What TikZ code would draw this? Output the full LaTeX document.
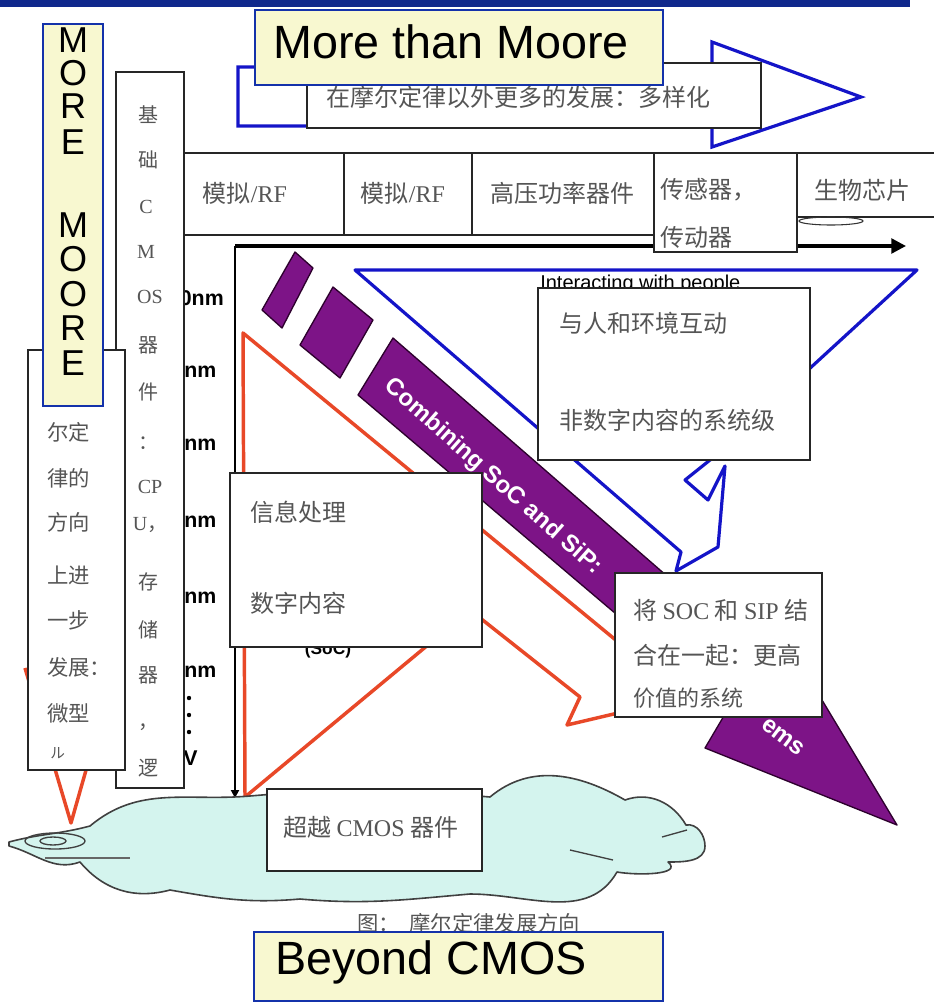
\documentclass[tikz,border=0pt]{standalone}
\usepackage{fontspec}
\setmainfont{Liberation Serif}
\newfontfamily\arialf{Liberation Sans}
\newfontfamily\cjk{Noto Sans CJK SC}
\usetikzlibrary{arrows.meta}
\definecolor{navy}{RGB}{16,40,140}
\definecolor{boxblue}{RGB}{20,50,170}
\definecolor{ylw}{RGB}{248,248,208}
\definecolor{arrblue}{RGB}{20,20,200}
\definecolor{purp}{RGB}{125,20,135}
\definecolor{purpdark}{RGB}{45,0,45}
\definecolor{redo}{RGB}{232,72,40}
\definecolor{cloudc}{RGB}{212,244,238}
\definecolor{txtg}{RGB}{85,85,85}
\newcommand\latn[1]{{\rmfamily #1}}
\tikzset{
 ybox/.style={draw=boxblue, fill=ylw, line width=1.3pt},
 wbox/.style={draw=black!85, fill=white, line width=1.1pt},
 big/.style={font=\arialf\fontsize{35}{38}\selectfont, inner sep=0, anchor=west},
 vlet/.style={font=\arialf\fontsize{27}{28}\selectfont, inner sep=0},
 ct/.style={font=\cjk\fontsize{18}{20}\selectfont, text=txtg, inner sep=0, anchor=west},
 ctc/.style={font=\cjk\fontsize{18}{20}\selectfont, text=txtg, inner sep=0},
 colt/.style={font=\cjk\fontsize{15}{16}\selectfont, text=txtg, inner sep=0},
 lbt/.style={font=\cjk\fontsize{16}{17}\selectfont, text=txtg, inner sep=0, anchor=west},
 nmt/.style={font=\arialf\bfseries\fontsize{16}{17}\selectfont, inner sep=0},
 blueline/.style={draw=arrblue, line width=2.4pt, line join=round},
 redline/.style={draw=redo, line width=2.6pt, line join=round},
 purpshape/.style={fill=purp, draw=purpdark, line width=1pt, line join=round},
 wtxt/.style={font=\arialf\bfseries\fontsize{18}{19}\selectfont, text=white, inner sep=0},
}
\begin{document}
\begin{tikzpicture}[x=0.75pt,y=-0.75pt]
\path[use as bounding box, fill=white] (0,0) rectangle (934,1003);
% top bar
\fill[navy] (0,0) rectangle (910,7);

% More than Moore arrow
\draw[blueline, line join=miter] (238,67) -- (712,67) -- (712,42) -- (861,97) -- (712,147) -- (712,126) -- (238,126) -- cycle;
\draw[wbox] (307,63) rectangle (761,128);
\node[ct] (divers) at (326,97) {在摩尔定律以外更多的发展：多样化};
\draw[ybox] (255,10) rectangle (663,85);
\node[big] (mtm) at (273,42) {More than Moore};

% axes
\coordinate (axO) at (235,246);
\coordinate (axX) at (906,246);
\coordinate (axY) at (235,798);
\draw[line width=2.5pt, -{Triangle[length=11pt,width=11pt]}] (axO) -- (axX);
\draw[line width=1.6pt, -{Triangle[length=6pt,width=6pt]}] (axO) -- (axY);

% row of cells
\draw[wbox] (183,153) rectangle (344,235);
\draw[wbox] (344,153) rectangle (472,235);
\draw[wbox] (472,153) rectangle (654,235);
\draw[wbox] (797,153) rectangle (940,217);
\draw[wbox] (654,153) rectangle (797,252);
\draw[black!80, line width=0.8pt] (831,221) ellipse [x radius=32, y radius=4];
\node[ctc] (r1) at (245,193) {模拟\latn{/RF}};
\node[ctc] (r2) at (403,193) {模拟\latn{/RF}};
\node[ctc] (r3) at (562,193) {高压功率器件};
\node[ct] (r4) at (660,190) {传感器，};
\node[ct] (r5) at (660,237) {传动器};
\node[ctc] (r6) at (862,190) {生物芯片};

% Interacting with people arrow
\draw[blueline] (355,270) -- (917,270) -- (710,460) -- (685,480) -- (708,500) -- (725,466) -- (718,547) -- (676,571) -- (681,552) -- cycle;
\node[font=\arialf\fontsize{15}{16}\selectfont, inner sep=0, anchor=west] (inter) at (540,284) {Interacting with people};

% purple combining arrow
\draw[purpshape] (295,252) -- (313,268) -- (282,328) -- (262,310) -- cycle;
\draw[purpshape] (333,287) -- (373,320) -- (340,378) -- (300,345) -- cycle;
\draw[purpshape] (393,338) -- (759,656) -- (777,625) -- (897,825) -- (705,748) -- (728,709) -- (358,395) -- cycle;
\node[wtxt, rotate=-41.5] (comb) at (493,477) {Combining SoC and SiP:};
\node[wtxt, rotate=-37] (ems) at (783,737) {ems};

% red information-processing arrow
\draw[redline] (243,333) -- (640,660) -- (652,705) -- (567,725) -- (580,697) -- (470,610) -- (245,797) -- cycle;
\node[font=\arialf\bfseries\fontsize{13}{14}\selectfont, inner sep=0] (soc) at (328,650) {(SoC)};

% text boxes
\draw[wbox] (538,288) rectangle (810,460);
\node[ct] (h1) at (559,323) {与人和环境互动};
\node[ct] (h2) at (559,420) {非数字内容的系统级};
\draw[wbox] (230,473) rectangle (482,647);
\node[ct] (d1) at (250,512) {信息处理};
\node[ct] (d2) at (250,603) {数字内容};
\draw[wbox] (615,573) rectangle (822,717);
\node[ct] (s1) at (633,610) {将 \latn{SOC} 和 \latn{SIP} 结};
\node[ct] (s2) at (633,655) {合在一起：更高};
\node[ct, font=\cjk\fontsize{16.5}{18}\selectfont] (s3) at (633,698) {价值的系统};

% cloud
\draw[fill=cloudc, draw=black!75, line width=1.2pt, line join=round]
 (9,842) to[out=15,in=195] (90,826)
 to[out=40,in=185] (250,796)
 to[out=5,in=175] (490,797)
 to[out=40,in=150] (625,800)
 to[out=20,in=120] (686,825)
 to[out=10,in=90] (705,846)
 to[out=-90,in=0] (668,862)
 to[out=-40,in=-10] (617,872)
 to[out=-120,in=0] (470,894)
 to[out=-175,in=-5] (300,899)
 to[out=-175,in=-10] (170,890)
 to[out=-165,in=-50] (80,862)
 to[out=200,in=-15] (9,846) -- cycle;
\draw[black!75, line width=1pt] (55,841) ellipse [x radius=30, y radius=8];
\draw[black!75, line width=1pt] (53,841) ellipse [x radius=13, y radius=4];
\draw[black!60, line width=0.8pt] (45,858) -- (130,858);
\draw[black!75, line width=1pt] (570,850) -- (613,860);
\draw[black!75, line width=1pt] (662,837) -- (687,830);
\draw[wbox] (267,789) rectangle (482,871);
\node[ct] (beyondcn) at (283,827) {超越 \latn{CMOS} 器件};

% nm labels (behind base box)
\node[nmt, anchor=east] (nm1) at (224,298) {0nm};
\node[nmt, anchor=west] (nm2) at (184,372) {nm};
\node[nmt, anchor=west] (nm3) at (184,445) {nm};
\node[nmt, anchor=west] (nm4) at (184,522) {nm};
\node[nmt, anchor=west] (nm5) at (184,598) {nm};
\node[nmt, anchor=west] (nm6) at (184,672) {nm};
\fill (189,698) circle [radius=2.2];
\fill (189,715) circle [radius=2.2];
\fill (189,732) circle [radius=2.2];
\node[nmt, anchor=west] (nmv) at (183,758) {V};

% base CMOS column
\draw[wbox] (116,72) rectangle (184,788);
\foreach \yy/\tx [count=\i] in {115/基,160/础,345/器,392/件,443/：,582/存,630/储,675/器,727/，,768/逻}
  \node[colt] (bc\i) at (148,\yy) {\tx};
\node[colt] (bl1) at (146,207) {\latn{C}};
\node[colt] (bl2) at (146,252) {\latn{M}};
\node[colt] (bl3) at (150,297) {\latn{OS}};
\node[colt] (bl4) at (150,487) {\latn{CP}};
\node[colt] (bl5) at (150,525) {\latn{U}，};

% More Moore red arrow and left box
\draw[redline] (25,668) -- (71,823) -- (115,668);
\draw[wbox] (28,350) rectangle (125,770);
\foreach \yy/\tx [count=\i] in {432/尔定,478/律的,522/方向,575/上进,620/一步,667/发展：,713/微型}
  \node[lbt] (lb\i) at (47,\yy) {\tx};
\node[lbt, font=\cjk\fontsize{11}{12}\selectfont] (lb8) at (50,753) {ル};

% MORE MOORE box
\draw[ybox] (43,24) rectangle (103,406);
\foreach \yy/\tx [count=\i] in {40/M,73/O,106/R,142/E,225/M,259/O,294/O,328/R,363/E}
  \node[vlet] (mm\i) at (73,\yy) {\tx};

% caption and Beyond CMOS
\node[ct, font=\cjk\fontsize{16}{17}\selectfont] (cap) at (357,923) {图：\ \ 摩尔定律发展方向};
\draw[ybox] (254,932) rectangle (663,1001);
\node[big] (bcm) at (275,962) {Beyond CMOS};
\end{tikzpicture}
\end{document}
